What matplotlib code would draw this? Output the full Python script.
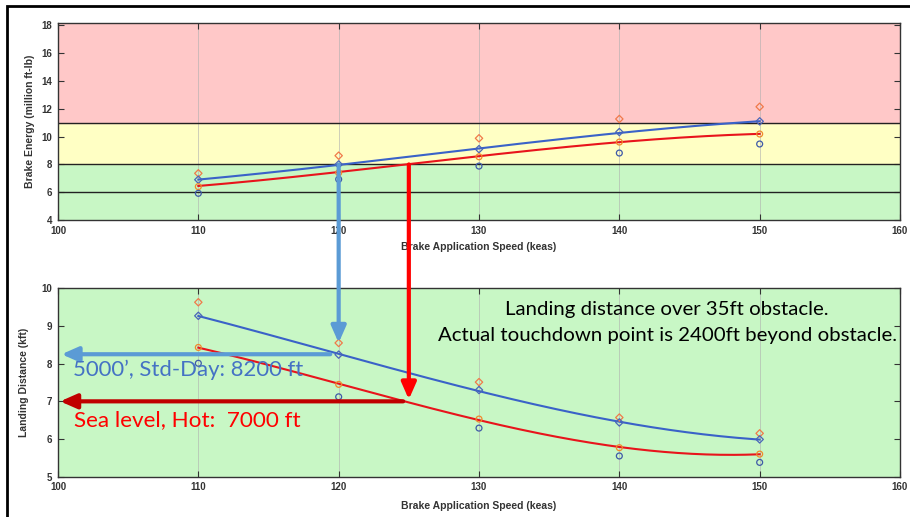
import numpy as np
import matplotlib
matplotlib.use("Agg")
import matplotlib.pyplot as plt
from matplotlib.patches import ConnectionPatch, Rectangle

# ---------------- data ----------------
speeds = [110, 120, 130, 140, 150]

# Brake energy (million ft-lb)
energy_blue_fit = [6.9, 8.0, 9.1, 10.3, 11.1]
energy_red_fit = [6.45, 7.45, 8.6, 9.6, 10.2]
energy_hi_diamond = [7.36, 8.63, 9.88, 11.27, 12.15]
energy_blue_diamond = [6.9, 8.0, 9.1, 10.33, 11.1]
energy_orange_circle = [6.4, 7.4, 8.55, 9.61, 10.19]
energy_low_circle = [5.92, 6.93, 7.88, 8.82, 9.47]

# Landing distance (kft)
dist_blue_fit = [9.27, 8.24, 7.30, 6.44, 5.99]
dist_red_fit = [8.43, 7.45, 6.53, 5.77, 5.60]
dist_hi_diamond = [9.63, 8.55, 7.51, 6.57, 6.15]
dist_blue_diamond = [9.27, 8.24, 7.30, 6.44, 5.99]
dist_orange_circle = [8.43, 7.45, 6.53, 5.77, 5.60]
dist_low_circle = [8.01, 7.12, 6.29, 5.55, 5.38]

# zones on brake energy chart
zone_green = (4, 8)
zone_yellow = (8, 11)
zone_red = (11, 18.2)
zone_lines = [6, 8, 11]

# annotation values
std_day_speed = 120
std_day_energy = 8.0
std_day_dist = 8.25
hot_speed = 125
hot_energy = 8.0
hot_dist = 7.0

xticks = [100, 110, 120, 130, 140, 150, 160]
yticks_top = [4, 6, 8, 10, 12, 14, 16, 18]
yticks_bot = [5, 6, 7, 8, 9, 10]

label_font = ["Liberation Sans", "DejaVu Sans"]
note_font = ["Lato", "DejaVu Sans"]

C_BLUE_LINE = "#3a62c8"
C_RED_LINE = "#e8141c"
C_HI = "#f07a4a"
C_BD = "#4a66b8"
C_OC = "#f0892c"
C_LC = "#3f5aa8"


def smooth(x, y):
    xx = np.linspace(min(x), max(x), 200)
    p = np.polyfit(x, y, 3)
    return xx, np.polyval(p, xx)


fig = plt.figure(figsize=(9.10, 5.17), dpi=100)
fig.patch.set_facecolor("white")

W, H = 910.0, 517.0
ax1 = fig.add_axes([58 / W, 1 - 220 / H, 842 / W, (220 - 22.7) / H])
ax2 = fig.add_axes([58 / W, 1 - 476.7 / H, 842 / W, (476.7 - 288.3) / H])


def style(ax, yticks, ylim):
    ax.set_xlim(100, 160)
    ax.set_ylim(*ylim)
    ax.set_xticks(xticks)
    ax.set_yticks(yticks)
    ax.tick_params(direction="in", length=4, width=0.8, top=True, right=True,
                   labelsize=7, pad=4, color="#333333")
    for lab in ax.get_xticklabels() + ax.get_yticklabels():
        lab.set_fontweight("bold")
        lab.set_family(label_font)
        lab.set_color("#333333")
    ax.grid(axis="x", color="#b0b0b0", lw=0.6, alpha=0.7)
    ax.set_axisbelow(True)
    for s in ax.spines.values():
        s.set_color("#333333")
        s.set_linewidth(1.0)


# ---- top chart ----
ax1.axhspan(*zone_green, color="#c8f7c5", zorder=0)
ax1.axhspan(*zone_yellow, color="#ffffc4", zorder=0)
ax1.axhspan(*zone_red, color="#ffc8c8", zorder=0)
for yl in zone_lines:
    ax1.axhline(yl, color="#222222", lw=1.0, zorder=1)
style(ax1, yticks_top, (4, 18.2))

xx, yy = smooth(speeds, energy_blue_fit)
ax1.plot(xx, yy, color=C_BLUE_LINE, lw=1.5, zorder=3)
xx, yy = smooth(speeds, energy_red_fit)
ax1.plot(xx, yy, color=C_RED_LINE, lw=1.5, zorder=3)
ax1.scatter(speeds, energy_hi_diamond, marker="D", s=14, facecolors="none",
            edgecolors=C_HI, lw=0.9, zorder=4)
ax1.scatter(speeds, energy_blue_diamond, marker="D", s=14, facecolors="none",
            edgecolors=C_BD, lw=0.9, zorder=4)
ax1.scatter(speeds, energy_orange_circle, marker="o", s=18, facecolors="none",
            edgecolors=C_OC, lw=0.9, zorder=4)
ax1.scatter(speeds, energy_low_circle, marker="o", s=18, facecolors="none",
            edgecolors=C_LC, lw=0.9, zorder=4)
ax1.set_xlabel("Brake Application Speed (keas)", fontsize=7.5, fontweight="bold",
               family=label_font, color="#333333", labelpad=5)
ax1.set_ylabel("Brake Energy (million ft-lb)", fontsize=7.5, fontweight="bold",
               family=label_font, color="#333333", labelpad=5)

# ---- bottom chart ----
ax2.set_facecolor("#c8f7c5")
style(ax2, yticks_bot, (5, 10))
xx, yy = smooth(speeds, dist_blue_fit)
ax2.plot(xx, yy, color=C_BLUE_LINE, lw=1.5, zorder=3)
xx, yy = smooth(speeds, dist_red_fit)
ax2.plot(xx, yy, color=C_RED_LINE, lw=1.5, zorder=3)
ax2.scatter(speeds, dist_hi_diamond, marker="D", s=14, facecolors="none",
            edgecolors=C_HI, lw=0.9, zorder=4)
ax2.scatter(speeds, dist_blue_diamond, marker="D", s=14, facecolors="none",
            edgecolors=C_BD, lw=0.9, zorder=4)
ax2.scatter(speeds, dist_orange_circle, marker="o", s=18, facecolors="none",
            edgecolors=C_OC, lw=0.9, zorder=4)
ax2.scatter(speeds, dist_low_circle, marker="o", s=18, facecolors="none",
            edgecolors=C_LC, lw=0.9, zorder=4)
ax2.set_xlabel("Brake Application Speed (keas)", fontsize=7.5, fontweight="bold",
               family=label_font, color="#333333", labelpad=6)
ax2.set_ylabel("Landing Distance (kft)", fontsize=7.5, fontweight="bold",
               family=label_font, color="#333333", labelpad=9)

# ---- arrows ----
arrow_style = "-|>,head_length=0.5,head_width=0.22"
cp_blue = ConnectionPatch(xyA=(std_day_speed, std_day_energy), coordsA=ax1.transData,
                          xyB=(std_day_speed, 8.55), coordsB=ax2.transData,
                          arrowstyle=arrow_style, mutation_scale=20, lw=3,
                          color="#5b9bd5", shrinkA=0, shrinkB=0, zorder=10)
fig.add_artist(cp_blue)
cp_red = ConnectionPatch(xyA=(hot_speed, hot_energy), coordsA=ax1.transData,
                         xyB=(hot_speed, 7.05), coordsB=ax2.transData,
                         arrowstyle=arrow_style, mutation_scale=20, lw=3,
                         color="#ff0000", shrinkA=0, shrinkB=0, zorder=10)
fig.add_artist(cp_red)

ax2.annotate("", xy=(100.25, std_day_dist), xytext=(119.4, std_day_dist),
             arrowprops=dict(arrowstyle=arrow_style, mutation_scale=20, lw=3,
                             color="#5b9bd5", shrinkA=0, shrinkB=0), zorder=10)
ax2.annotate("", xy=(100.15, hot_dist), xytext=(124.6, hot_dist),
             arrowprops=dict(arrowstyle=arrow_style, mutation_scale=20, lw=3,
                             color="#c00000", shrinkA=0, shrinkB=0), zorder=10)

fig.text(73 / W, 1 - 370 / H, "5000’, Std-Day: 8200 ft", color="#4472c4",
         fontsize=15.9, family=note_font, va="center", ha="left")
fig.text(74 / W, 1 - 420 / H, "Sea level, Hot:  7000 ft", color="#ff0000",
         fontsize=16.2, family=note_font, va="center", ha="left")
fig.text(667 / W, 1 - 309 / H, "Landing distance over 35ft obstacle.", color="black",
         fontsize=14.7, family=note_font, va="center", ha="center")
fig.text(667 / W, 1 - 336 / H, "Actual touchdown point is 2400ft beyond obstacle.",
         color="black", fontsize=14.7, family=note_font, va="center", ha="center")

# outer frame
fig.add_artist(Rectangle((7 / W, -0.02), 1.0, 1 - 6 / H + 0.02, transform=fig.transFigure,
                         fill=False, lw=2, edgecolor="black"))

fig.savefig("out.png", dpi=100)
